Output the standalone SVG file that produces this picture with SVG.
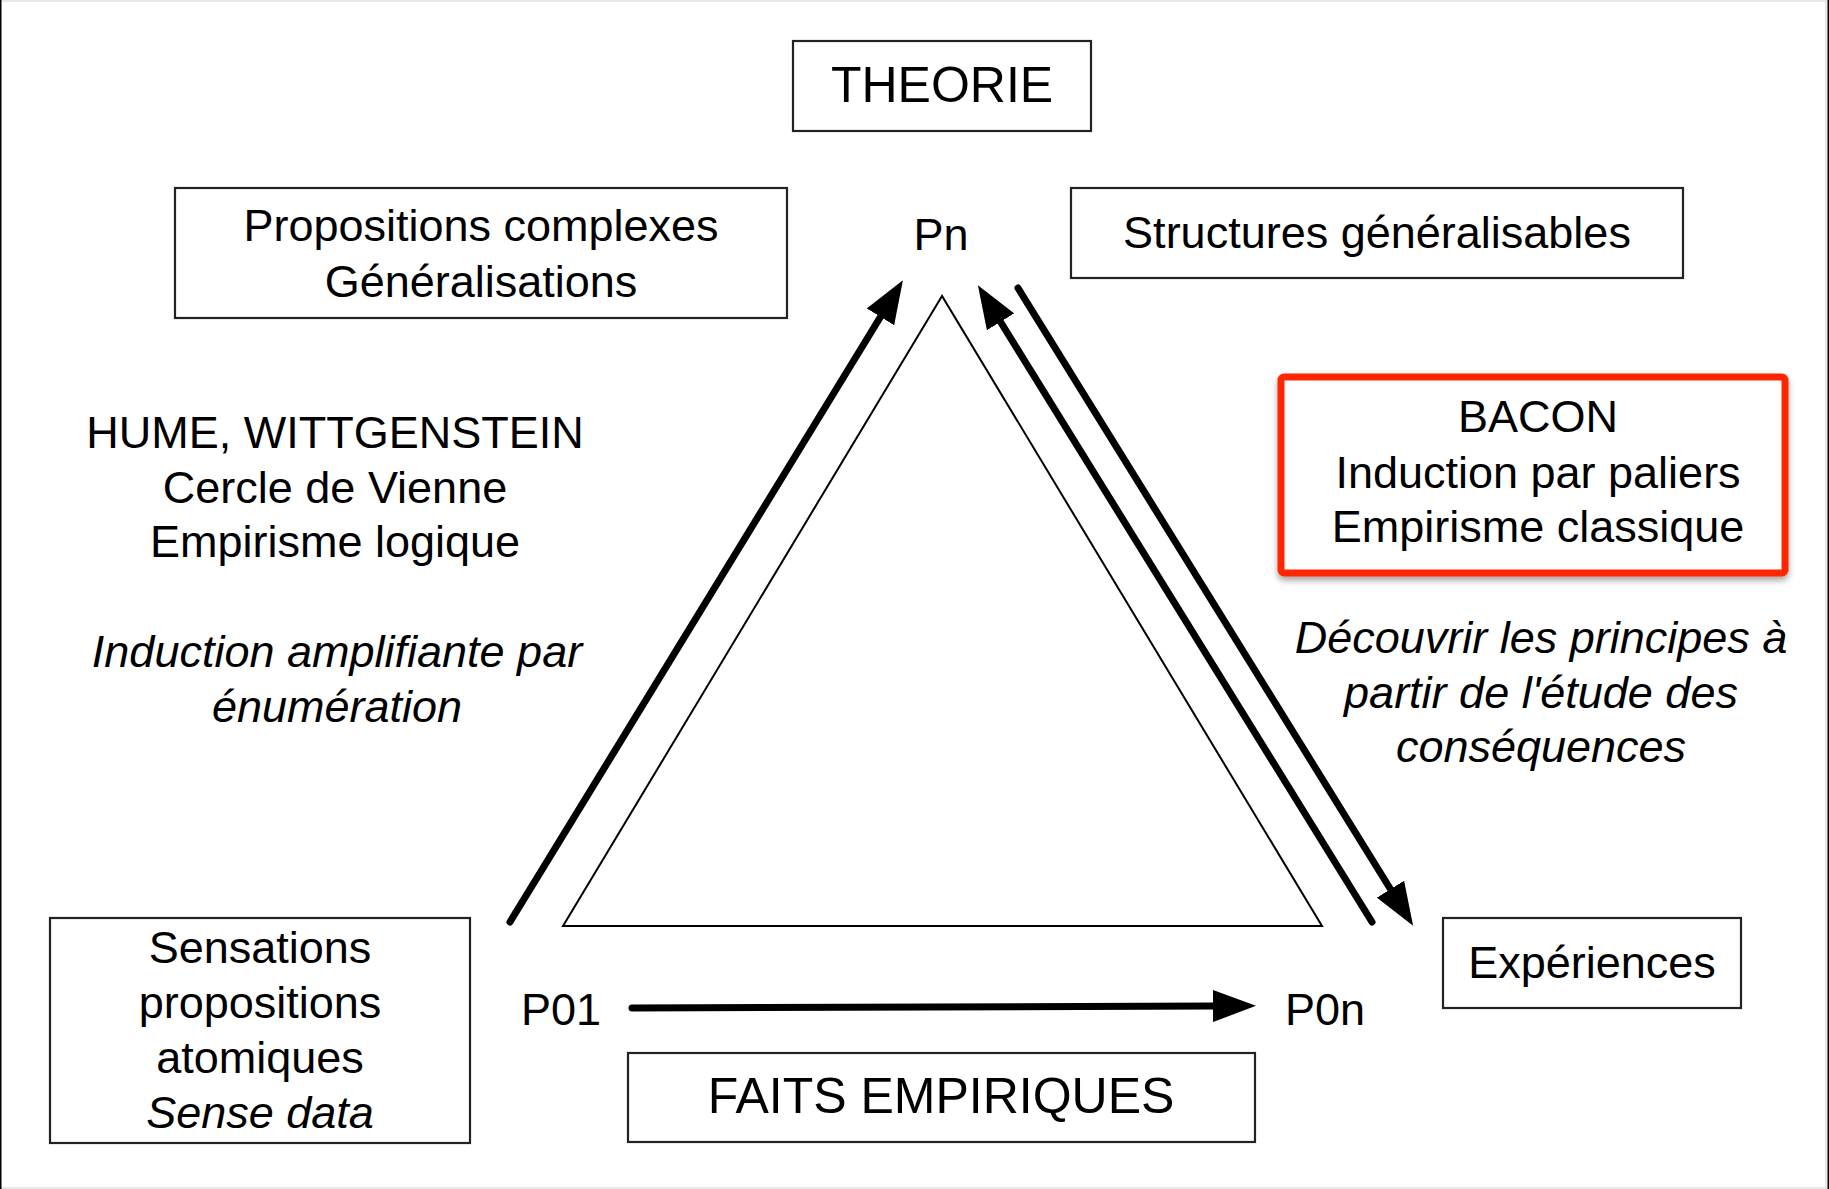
<svg xmlns="http://www.w3.org/2000/svg" width="1829" height="1189" viewBox="0 0 1829 1189">
<style>
text{font-family:"Liberation Sans",Arial,Helvetica,sans-serif;fill:#000;text-anchor:middle}
.t{font-size:45px}
.big{font-size:50px}
.it{font-style:italic}
.box{fill:#fff;stroke:#222;stroke-width:2.2}
.conn{stroke:#000;stroke-width:7;stroke-linecap:round;fill:none}
</style>
<defs>
<marker id="ah" markerUnits="userSpaceOnUse" markerWidth="44" markerHeight="32" refX="1" refY="16" orient="auto">
<path d="M0,0 L43,16 L0,32 z" fill="#000"/>
</marker>
<filter id="sh" x="-10%" y="-10%" width="120%" height="130%">
<feDropShadow dx="0" dy="4" stdDeviation="3" flood-color="#000" flood-opacity="0.35"/>
</filter>
</defs>
<rect x="0" y="0" width="1829" height="1189" fill="#fff"/>
<rect x="0" y="0" width="1829" height="2" fill="#e8e8e8"/>
<rect x="0" y="1187" width="1829" height="2" fill="#e8e8e8"/>
<rect x="1825" y="0" width="2" height="1189" fill="#e8e8e8"/>
<rect x="1827.5" y="0" width="1.5" height="1189" fill="#000"/>
<rect x="0" y="0" width="1.5" height="1189" fill="#000"/>

<g id="triangle">
<polygon points="942,296 563,926 1322,926" fill="none" stroke="#000" stroke-width="2"/>
</g>

<g id="connectors">
<line class="conn" x1="510" y1="922" x2="881" y2="316" marker-end="url(#ah)"/>
<line class="conn" x1="1372" y1="922" x2="1000" y2="321" marker-end="url(#ah)"/>
<line class="conn" x1="1018" y1="288" x2="1391" y2="890" marker-end="url(#ah)"/>
<line class="conn" x1="632" y1="1008" x2="1214" y2="1006" stroke-width="8" marker-end="url(#ah)"/>
</g>

<g id="theorie">
<rect class="box" x="793" y="41" width="298" height="90"/>
<text class="big" x="942" y="102">THEORIE</text>
</g>

<g id="propositions">
<rect class="box" x="175" y="188" width="612" height="130"/>
<text class="t" x="481" y="241">Propositions complexes</text>
<text class="t" x="481" y="297">Généralisations</text>
</g>

<g id="pn">
<text class="t" x="941" y="250">Pn</text>
</g>

<g id="structures">
<rect class="box" x="1071" y="188" width="612" height="90"/>
<text class="t" x="1377" y="248">Structures généralisables</text>
</g>

<g id="hume">
<text class="t" x="335" y="448">HUME, WITTGENSTEIN</text>
<text class="t" x="335" y="503">Cercle de Vienne</text>
<text class="t" x="335" y="557">Empirisme logique</text>
</g>

<g id="induction-amplifiante">
<text class="t it" x="337" y="667">Induction amplifiante par</text>
<text class="t it" x="337" y="722">énumération</text>
</g>

<g id="bacon">
<rect x="1281" y="377" width="504" height="196" rx="3" fill="#fff" stroke="#ff2600" stroke-width="7" filter="url(#sh)"/>
<text class="t" x="1538" y="432">BACON</text>
<text class="t" x="1538" y="488">Induction par paliers</text>
<text class="t" x="1538" y="542">Empirisme classique</text>
</g>

<g id="decouvrir">
<text class="t it" x="1541" y="653">Découvrir les principes à</text>
<text class="t it" x="1541" y="708">partir de l'étude des</text>
<text class="t it" x="1541" y="762">conséquences</text>
</g>

<g id="sensations">
<rect class="box" x="50" y="918" width="420" height="225"/>
<text class="t" x="260" y="963">Sensations</text>
<text class="t" x="260" y="1018">propositions</text>
<text class="t" x="260" y="1073">atomiques</text>
<text class="t it" x="260" y="1128">Sense data</text>
</g>

<g id="p01">
<text class="t" x="561" y="1025">P01</text>
</g>

<g id="p0n">
<text class="t" x="1325" y="1025">P0n</text>
</g>

<g id="experiences">
<rect class="box" x="1443" y="918" width="298" height="90"/>
<text class="t" x="1592" y="978">Expériences</text>
</g>

<g id="faits">
<rect class="box" x="628" y="1053" width="627" height="89"/>
<text class="big" x="941" y="1113">FAITS EMPIRIQUES</text>
</g>
</svg>
